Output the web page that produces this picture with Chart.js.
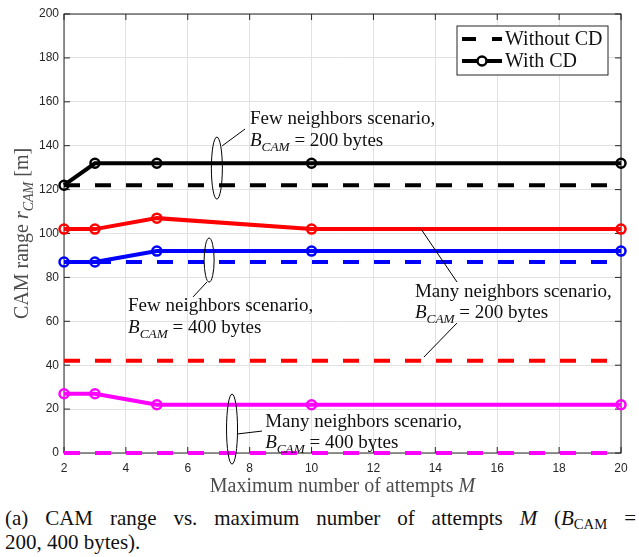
<!DOCTYPE html>
<html>
<head>
<meta charset="utf-8">
<script src="https://cdn.jsdelivr.net/npm/chart.js@4.4.1/dist/chart.umd.min.js"></script>
<style>
body { margin: 0; background: #fff; }
#wrap { position: relative; width: 639px; height: 557px; }
#chart { position: absolute; left: 0; top: 0; }
.cap { position: absolute; left: 5px; width: 631px; font-family: "Liberation Serif", serif; font-size: 21px; line-height: 24px; color: #111; }
.l1 { top: 506px; text-align: justify; text-align-last: justify; }
.l2 { top: 530px; }
.sub { font-size: 0.7em; position: relative; top: 0.3em; }
</style>
</head>
<body>
<div id="wrap">
  <canvas id="chart" width="639" height="500"></canvas>
  <div class="cap l1">(a) CAM range vs. maximum number of attempts <i>M</i> (<i>B</i><span class="sub">CAM</span> =</div>
  <div class="cap l2">200, 400 bytes).</div>
</div>
<script>
const ctx = document.getElementById('chart');

// data
const attempts = [2, 3, 5, 10, 20];
const fewWith200 = [122, 132, 132, 132, 132];
const fewWithout200 = [122, 122, 122, 122, 122];
const manyWith200 = [102, 102, 107, 102, 102];
const manyWithout200 = [42, 42, 42, 42, 42];
const fewWith400 = [87, 87, 92, 92, 92];
const fewWithout400 = [87, 87, 87, 87, 87];
const manyWith400 = [27, 27, 22, 22, 22];
const manyWithout400 = [0, 0, 0, 0, 0];

const xTicks = [2, 4, 6, 8, 10, 12, 14, 16, 18, 20];
const yTicks = [0, 20, 40, 60, 80, 100, 120, 140, 160, 180, 200];

const legendLabels = ['Without CD', 'With CD'];
const scenarioNames = ['Few neighbors scenario,', 'Many neighbors scenario,'];
const camSizes = [200, 400];

const serif = '"Liberation Serif", "Times New Roman", serif';

function pts(vals) {
    return attempts.map((a, i) => ({ x: a, y: vals[i] }));
}

function withCD(vals, color) {
    return {
        label: legendLabels[1],
        data: pts(vals),
        borderColor: color,
        borderWidth: 4,
        pointRadius: 4.5,
        pointBorderWidth: 2.5,
        pointBorderColor: color,
        pointBackgroundColor: 'rgba(0,0,0,0)',
        pointHoverRadius: 4.5,
        tension: 0,
        clip: false
    };
}

function withoutCD(vals, color) {
    return {
        label: legendLabels[0],
        data: pts(vals),
        borderColor: color,
        borderWidth: 4,
        borderDash: [16, 15],
        pointRadius: 0,
        tension: 0,
        clip: false
    };
}

// annotation placement (data coordinates, radii in px)
const ellipses = [
    { x: 6.94, y: 129.8, rx: 5.5, ry: 31 },
    { x: 6.69, y: 87.9, rx: 5, ry: 22 },
    { x: 7.43, y: 10.9, rx: 5.5, ry: 35 }
];
const pointers = [
    [7.11, 139.9, 7.85, 147.6],
    [6.62, 77.9, 6.17, 71.1],
    [7.62, 8.7, 8.40, 10.0],
    [13.54, 102.0, 14.70, 77.9],
    [14.70, 59.2, 13.63, 43.7]
];
const notes = [
    { x: 8.01, y1: 149.9, y2: 139.9, name: 0, size: 0 },
    { x: 4.07, y1: 64.7, y2: 54.7, name: 0, size: 1 },
    { x: 8.50, y1: 11.8, y2: 2.3, name: 1, size: 1 },
    { x: 13.34, y1: 71.1, y2: 61.5, name: 1, size: 0 }
];

function richText(c, parts, x, y, size) {
    parts.forEach(p => {
        const s = p.sub ? size * 0.7 : size;
        c.font = (p.it ? 'italic ' : '') + s + 'px ' + serif;
        c.fillText(p.t, x, y + (p.sub ? size * 0.25 : 0));
        x += c.measureText(p.t).width;
    });
    return x;
}

function richWidth(c, parts, size) {
    let w = 0;
    parts.forEach(p => {
        const s = p.sub ? size * 0.7 : size;
        c.font = (p.it ? 'italic ' : '') + s + 'px ' + serif;
        w += c.measureText(p.t).width;
    });
    return w;
}

const boxPlugin = {
    id: 'box',
    beforeDatasetsDraw(chart) {
        const c = chart.ctx;
        const { left, right, top, bottom } = chart.chartArea;
        const xs = chart.scales.x, ys = chart.scales.y;
        c.save();
        c.strokeStyle = '#262626';
        c.lineWidth = 1;
        c.strokeRect(left, top, right - left, bottom - top);
        c.beginPath();
        xTicks.forEach(v => {
            const px = xs.getPixelForValue(v);
            c.moveTo(px, bottom); c.lineTo(px, bottom - 6);
            c.moveTo(px, top); c.lineTo(px, top + 6);
        });
        yTicks.forEach(v => {
            const py = ys.getPixelForValue(v);
            c.moveTo(left, py); c.lineTo(left + 6, py);
            c.moveTo(right, py); c.lineTo(right - 6, py);
        });
        c.stroke();
        c.restore();
    }
};

const notePlugin = {
    id: 'notes',
    afterDatasetsDraw(chart) {
        const c = chart.ctx;
        const xs = chart.scales.x, ys = chart.scales.y;
        const X = v => xs.getPixelForValue(v), Y = v => ys.getPixelForValue(v);
        c.save();
        c.strokeStyle = '#000';
        c.lineWidth = 1;
        ellipses.forEach(e => {
            c.beginPath();
            c.ellipse(X(e.x), Y(e.y), e.rx, e.ry, 0, 0, Math.PI * 2);
            c.stroke();
        });
        pointers.forEach(p => {
            c.beginPath();
            c.moveTo(X(p[0]), Y(p[1]));
            c.lineTo(X(p[2]), Y(p[3]));
            c.stroke();
        });
        c.fillStyle = '#111';
        c.textBaseline = 'alphabetic';
        c.textAlign = 'left';
        notes.forEach(n => {
            richText(c, [{ t: scenarioNames[n.name] }], X(n.x), Y(n.y1), 19);
            richText(c, [
                { t: 'B', it: true },
                { t: 'CAM', it: true, sub: true },
                { t: ' = ' + camSizes[n.size] + ' bytes' }
            ], X(n.x), Y(n.y2), 19);
        });

        // legend
        const { right, top, left, bottom } = chart.chartArea;
        const lx = right - 164, ly = top + 12;
        c.fillStyle = '#fff';
        c.fillRect(lx, ly, 151, 49);
        c.strokeStyle = '#262626';
        c.strokeRect(lx, ly, 151, 49);
        c.strokeStyle = '#000';
        c.lineWidth = 4;
        c.setLineDash([14, 16]);
        c.beginPath();
        c.moveTo(lx + 5, ly + 13); c.lineTo(lx + 45, ly + 13);
        c.stroke();
        c.setLineDash([]);
        c.beginPath();
        c.moveTo(lx + 5, ly + 35); c.lineTo(lx + 45, ly + 35);
        c.stroke();
        c.lineWidth = 2.5;
        c.beginPath();
        c.arc(lx + 25, ly + 35, 4.5, 0, Math.PI * 2);
        c.fillStyle = '#fff';
        c.fill();
        c.stroke();
        c.fillStyle = '#111';
        c.textBaseline = 'middle';
        c.font = '20px ' + serif;
        c.fillText(legendLabels[0], lx + 48, ly + 14);
        c.fillText(legendLabels[1], lx + 48, ly + 36);

        // axis titles
        c.fillStyle = '#4d4d4d';
        c.textBaseline = 'alphabetic';
        const xt = [{ t: 'Maximum number of attempts ' }, { t: 'M', it: true }];
        const xw = richWidth(c, xt, 20);
        richText(c, xt, (left + right) / 2 - xw / 2, bottom + 39, 20);
        const yt = [
            { t: 'CAM range ' }, { t: 'r', it: true },
            { t: 'CAM', it: true, sub: true }, { t: ' [m]' }
        ];
        const yw = richWidth(c, yt, 20);
        c.translate(28, (top + bottom) / 2);
        c.rotate(-Math.PI / 2);
        richText(c, yt, -yw / 2, 0, 20);
        c.restore();
    }
};

new Chart(ctx, {
    type: 'line',
    data: {
        datasets: [
            withCD(fewWith200, '#000000'),
            withoutCD(fewWithout200, '#000000'),
            withCD(manyWith200, '#ff0000'),
            withoutCD(manyWithout200, '#ff0000'),
            withCD(fewWith400, '#0000ff'),
            withoutCD(fewWithout400, '#0000ff'),
            withCD(manyWith400, '#ff00ff'),
            withoutCD(manyWithout400, '#ff00ff')
        ]
    },
    options: {
        responsive: false,
        animation: false,
        events: [],
        layout: { padding: { left: 0, top: 14, right: 18, bottom: 0 } },
        plugins: {
            legend: { display: false },
            tooltip: { enabled: false }
        },
        scales: {
            x: {
                type: 'linear',
                min: 2,
                max: 20,
                afterBuildTicks: s => { s.ticks = xTicks.map(v => ({ value: v })); },
                afterFit: s => { s.height = 47; },
                grid: { color: '#e2e2e2', drawTicks: false },
                border: { display: false },
                ticks: {
                    padding: 8,
                    color: '#262626',
                    font: { family: '"Liberation Sans", Arial, sans-serif', size: 12 }
                }
            },
            y: {
                type: 'linear',
                min: 0,
                max: 200,
                afterBuildTicks: s => { s.ticks = yTicks.map(v => ({ value: v })); },
                afterFit: s => { s.width = 64; },
                grid: { color: '#e2e2e2', drawTicks: false },
                border: { display: false },
                ticks: {
                    padding: 5,
                    color: '#262626',
                    font: { family: '"Liberation Sans", Arial, sans-serif', size: 12 }
                }
            }
        }
    },
    plugins: [boxPlugin, notePlugin]
});
</script>
</body>
</html>
